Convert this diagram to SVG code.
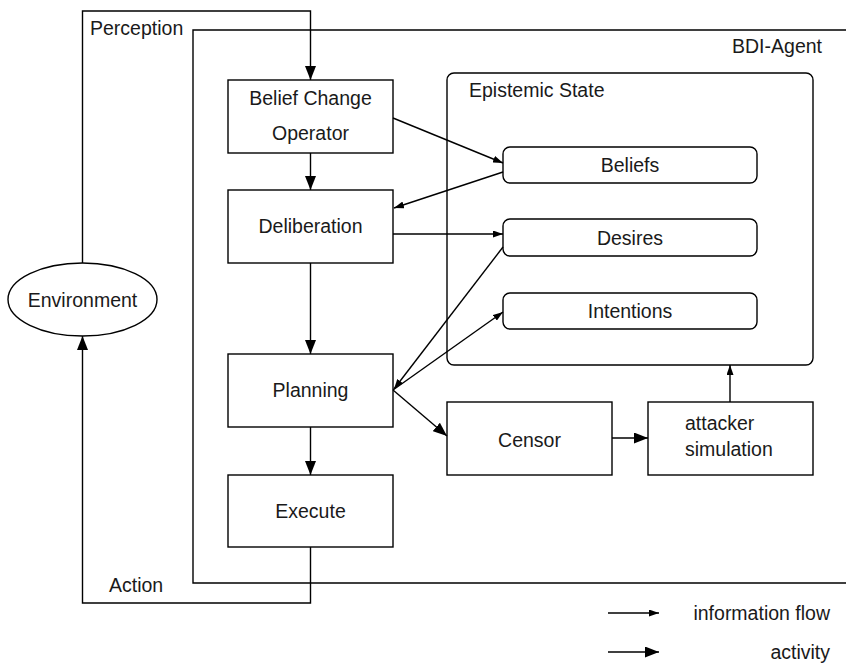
<svg xmlns="http://www.w3.org/2000/svg" width="846" height="667" viewBox="0 0 846 667">
  <style>
    .box { fill: #ffffff; stroke: #000000; stroke-width: 1.4; }
    .frame { fill: none; stroke: #000000; stroke-width: 1.4; }
    .info { fill: none; stroke: #000000; stroke-width: 1.4; marker-end: url(#infoHead); }
    .act { fill: none; stroke: #000000; stroke-width: 1.4; marker-end: url(#actHead); }
    text { font-family: "Liberation Sans", Arial, sans-serif; font-size: 19.5px; fill: #1a1a1a; }
    .c { text-anchor: middle; }
    .r { text-anchor: end; }
  </style>
  <defs>
    <!-- thin head: information flow -->
    <marker id="infoHead" markerUnits="userSpaceOnUse" viewBox="0 0 10 7" refX="10" refY="3.5" markerWidth="10" markerHeight="7" orient="auto">
      <path d="M0,0 L10,3.5 L0,7 Z" fill="#000000"/>
    </marker>
    <!-- heavy head: activity -->
    <marker id="actHead" markerUnits="userSpaceOnUse" viewBox="0 0 14 11" refX="14" refY="5.5" markerWidth="14" markerHeight="11" orient="auto">
      <path d="M0,0 L14,5.5 L0,11 Z" fill="#000000"/>
    </marker>
  </defs>

  <!-- agent boundary (open to the right) -->
  <g id="bdi-agent">
    <path class="frame" d="M846,30 H193 V583 H846"/>
    <text class="r" x="822" y="53">BDI-Agent</text>
  </g>

  <g id="epistemic-state">
    <rect class="box" x="447" y="73" width="366" height="292" rx="7"/>
    <text x="469" y="97">Epistemic State</text>
  </g>

  <g id="environment">
    <ellipse class="box" cx="82.5" cy="299.5" rx="74.5" ry="36.5"/>
    <text class="c" x="82.5" y="307">Environment</text>
  </g>

  <g id="belief-change-operator">
    <rect class="box" x="228" y="80" width="165" height="73"/>
    <text class="c" x="310.5" y="105">Belief Change</text>
    <text class="c" x="310.5" y="140">Operator</text>
  </g>

  <g id="deliberation">
    <rect class="box" x="228" y="190" width="165" height="73"/>
    <text class="c" x="310.5" y="233">Deliberation</text>
  </g>

  <g id="planning">
    <rect class="box" x="228" y="354" width="165" height="73"/>
    <text class="c" x="310.5" y="397">Planning</text>
  </g>

  <g id="execute">
    <rect class="box" x="228" y="475" width="165" height="72"/>
    <text class="c" x="310.5" y="518">Execute</text>
  </g>

  <g id="beliefs">
    <rect class="box" x="503" y="147" width="254" height="36" rx="7"/>
    <text class="c" x="630" y="172">Beliefs</text>
  </g>

  <g id="desires">
    <rect class="box" x="503" y="219" width="254" height="37" rx="7"/>
    <text class="c" x="630" y="245">Desires</text>
  </g>

  <g id="intentions">
    <rect class="box" x="503" y="293" width="254" height="36" rx="7"/>
    <text class="c" x="630" y="318">Intentions</text>
  </g>

  <g id="censor">
    <rect class="box" x="447" y="402" width="165" height="73"/>
    <text class="c" x="529.5" y="447">Censor</text>
  </g>

  <g id="attacker-simulation">
    <rect class="box" x="648" y="402" width="165" height="73"/>
    <text x="685" y="430">attacker</text>
    <text x="685" y="456">simulation</text>
  </g>

  <g id="connectors">
    <!-- perception: environment to belief change -->
    <path class="act" d="M82.5,263 V11 H310.5 V80"/>
    <!-- action: execute back to environment -->
    <path class="act" d="M310.5,547 V603 H82.5 V336"/>
    <!-- control chain -->
    <path class="act" d="M310.5,153 V190"/>
    <path class="act" d="M310.5,263 V354"/>
    <path class="act" d="M310.5,427 V475"/>
    <path class="act" d="M393,390 L447,436"/>
    <path class="act" d="M612,438 H648"/>
    <!-- information flow -->
    <path class="info" d="M393,118 L503,163"/>
    <path class="info" d="M503,172 L394,208"/>
    <path class="info" d="M393,234 H503"/>
    <path class="info" d="M503,247 L394,389"/>
    <path class="info" d="M393,390 L503,312"/>
    <path class="info" d="M730,402 V365"/>
  </g>

  <g id="legend">
    <path class="info" d="M608,613 H659"/>
    <text class="r" x="830" y="620">information flow</text>
    <path class="act" d="M608,652 H659"/>
    <text class="r" x="830" y="659">activity</text>
  </g>

  <g id="labels">
    <text x="90" y="35">Perception</text>
    <text x="109" y="592">Action</text>
  </g>
</svg>
